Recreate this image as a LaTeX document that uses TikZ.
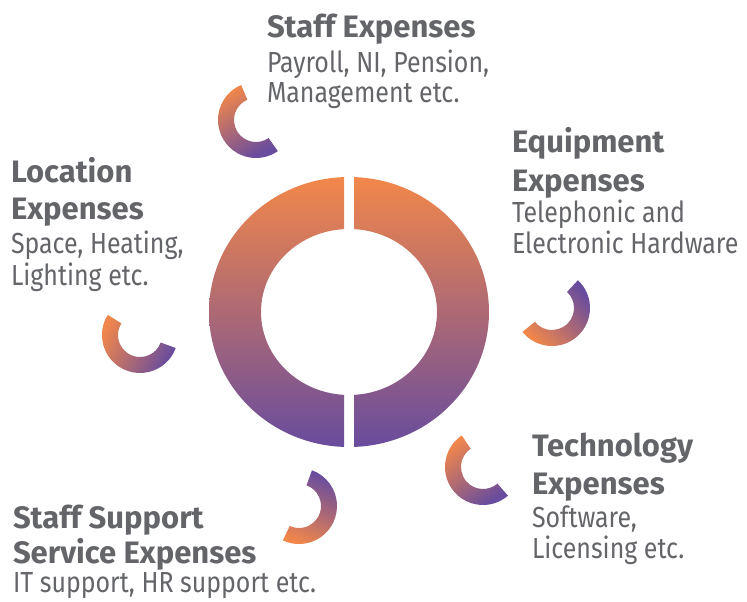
\documentclass[tikz,border=0pt]{standalone}
\usepackage{fontspec}
\setmainfont{Fira Sans}
\newfontfamily\bodyfam[FakeStretch=0.86]{Fira Sans}
\definecolor{orng}{HTML}{F2874A}
\definecolor{purp}{HTML}{684C9E}
\definecolor{txt}{HTML}{646569}
\newcommand\tf{\fontsize{31}{36}\selectfont\bfseries}
\newcommand\bodyf{\bodyfam\fontsize{29}{32}\selectfont}
\newcommand\smallarc[5]{%
  \begin{scope}[shift={(#1,#2)}]
    \shade[top color=orng, bottom color=purp, shading angle=#5] (#3:38) arc[start angle=#3, end angle=#4, radius=38]
      -- (#4:22) arc[start angle=#4, end angle=#3, radius=22] -- cycle;
  \end{scope}}
\tikzset{
  lbl/.style={anchor=base west, inner sep=0pt, outer sep=0pt, text=txt},
}
\begin{document}
\begin{tikzpicture}[x=1pt,y=1pt]
\useasboundingbox (0,0) rectangle (747,-602);
% central donut, two halves
\begin{scope}
  \clip (0,0) rectangle (344,-602);
  \shade[top color=orng, bottom color=purp, even odd rule]
    (349,-312) ellipse [x radius=140, y radius=135]
    (349,-312) ellipse [x radius=88, y radius=83];
\end{scope}
\begin{scope}
  \clip (354,0) rectangle (747,-602);
  \shade[top color=orng, bottom color=purp, even odd rule]
    (349,-312) ellipse [x radius=140, y radius=135]
    (349,-312) ellipse [x radius=88, y radius=83];
\end{scope}
% small arcs
\smallarc{256}{-120}{113}{305}{29}
\smallarc{140}{-335}{148}{340}{64}
\smallarc{552}{-308}{219}{407}{133}
\smallarc{483}{-467}{124}{311}{37.5}
\smallarc{299}{-506}{245}{430}{157}
% labels
\node[lbl] (staff) at (267,-38) {\vtop{\lineskiplimit=-1000pt
  \baselineskip=35pt \hbox{\tf Staff Expenses}
  \hbox{\bodyf Payroll, NI, Pension,}
  \baselineskip=30pt \hbox{\bodyf Management etc.}}};
\node[lbl] (loc) at (11,-182) {\vtop{\lineskiplimit=-1000pt
  \baselineskip=37pt \hbox{\tf Location}\hbox{\tf Expenses}
  \baselineskip=34pt \hbox{\bodyf Space, Heating,}
  \baselineskip=32pt \hbox{\bodyf Lighting etc.}}};
\node[lbl] (equip) at (512,-152) {\vtop{\lineskiplimit=-1000pt
  \baselineskip=39pt \hbox{\tf Equipment}\hbox{\tf Expenses}
  \baselineskip=31pt \hbox{\bodyf Telephonic and}
  \baselineskip=32pt \hbox{\bodyf Electronic Hardware}}};
\node[lbl] (tech) at (532,-456) {\vtop{\lineskiplimit=-1000pt
  \baselineskip=38pt \hbox{\tf Technology}\hbox{\tf Expenses}
  \baselineskip=33pt \hbox{\bodyf Software,}
  \baselineskip=31pt \hbox{\bodyf Licensing etc.}}};
\node[lbl] (supp) at (13,-528) {\vtop{\lineskiplimit=-1000pt
  \baselineskip=35pt \hbox{\tf Staff Support}\hbox{\tf Service Expenses}
  \baselineskip=29pt \hbox{\bodyf IT support, HR support etc.}}};
\end{tikzpicture}
\end{document}
